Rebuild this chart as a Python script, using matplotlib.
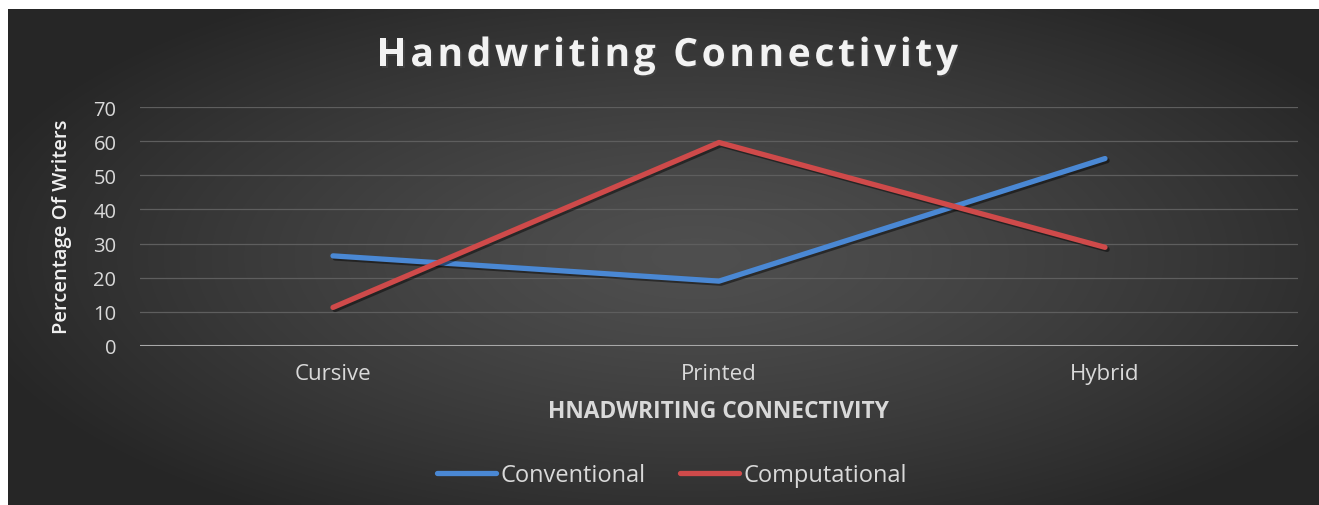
import numpy as np
import matplotlib
matplotlib.use("Agg")
import matplotlib.pyplot as plt
import matplotlib.patheffects as pe
from matplotlib.font_manager import FontProperties

categories = ["Cursive", "Printed", "Hybrid"]
conventional = [26.4, 19.0, 54.9]
computational = [11.3, 59.6, 28.9]
yticks = [0, 10, 20, 30, 40, 50, 60, 70]
title = "Handwriting Connectivity"

W, H = 1319, 506
fig = plt.figure(figsize=(W / 100, H / 100), dpi=100)
fig.patch.set_facecolor("white")

# background panel with radial gradient
bg = fig.add_axes([8 / W, 0, 1 - 8 / W, (H - 10) / H])
bg.set_axis_off()
nx, ny = 400, 160
xx, yy = np.meshgrid(np.linspace(-1, 1, nx), np.linspace(-1, 1, ny))
r = np.sqrt(((xx - 0.05) / 1.0) ** 2 + (yy / 1.1) ** 2)
r = np.clip(r / 1.15, 0, 1)
c0, c1 = 0.31, 0.15
val = c0 + (c1 - c0) * r ** 1.3
img = np.dstack([val, val, val])
bg.imshow(img, aspect="auto", extent=[0, 1, 0, 1], interpolation="bicubic")
bg.set_xlim(0, 1)
bg.set_ylim(0, 1)

ax = fig.add_axes([140 / W, 159 / H, (1298 - 140) / W, 239 / H])
ax.set_facecolor("none")
x = np.arange(len(categories))
shadow = [pe.SimpleLineShadow(offset=(1.5, -1.5), shadow_color="black", alpha=0.45), pe.Normal()]
ax.plot(x, conventional, color="#4a88d4", lw=3.8, solid_capstyle="round", solid_joinstyle="round",
        label="Conventional", path_effects=shadow, zorder=3)
ax.plot(x, computational, color="#cf4a4a", lw=3.8, solid_capstyle="round", solid_joinstyle="round",
        label="Computational", path_effects=shadow, zorder=3)
ax.set_xlim(-0.5, 2.5)
ax.set_ylim(0, 70)
ax.set_yticks(yticks)
ax.set_xticks(x)
ax.set_xticklabels(categories)
for s in ax.spines.values():
    s.set_visible(False)
ax.grid(axis="y", color="#5e5e5e", lw=0.9)
ax.axhline(0, color="#a8a8a8", lw=1.5, zorder=2)
ax.tick_params(length=0, colors="#d9d9d9")
ax.tick_params(axis="y", pad=17, labelsize=14.5)
ax.tick_params(axis="x", pad=12, labelsize=16)
for t in ax.get_xticklabels() + ax.get_yticklabels():
    t.set_fontfamily("Open Sans")
    t.set_color("#d9d9d9")

ax.set_ylabel("Percentage Of Writers", fontfamily="Open Sans", fontsize=14.5, color="#f0f0f0",
              fontweight="semibold")
ax.yaxis.set_label_coords(-68 / (1298 - 140), 0.505)

# letter-spaced title
fp = FontProperties(family="Open Sans", weight="bold", size=28)
renderer = fig.canvas.get_renderer()
def tw(s):
    return renderer.get_text_width_height_descent(s, fp, ismath=False)[0]
natural = tw(title)
target = 958 - 377
track = (target - natural) / (len(title) - 1)
x_left = 377.0
for i, ch in enumerate(title):
    if ch == " ":
        continue
    pos = tw(title[:i + 1]) - tw(ch) + track * i
    fig.text((x_left + pos) / W, 1 - 67 / H, ch, ha="left", va="baseline", fontproperties=fp,
             color="#f2f2f2",
             path_effects=[pe.withSimplePatchShadow(offset=(1.2, -1.2), alpha=0.6)])

fig.text(718 / W, 1 - 412 / H, "HNADWRITING CONNECTIVITY", ha="center", va="center",
         fontfamily="Open Sans", fontweight="bold", fontsize=16.4, color="#d9d9d9")

leg = fig.legend(loc="center", bbox_to_anchor=(672 / W, 1 - 476 / H), ncol=2, frameon=False,
                 handlelength=2.5, handletextpad=0.2, columnspacing=1.45,
                 prop={"family": "Open Sans", "size": 17})
for t in leg.get_texts():
    t.set_color("#d9d9d9")
for l in leg.get_lines():
    l.set_path_effects([])

fig.savefig("out.png", dpi=100, facecolor=fig.get_facecolor())
